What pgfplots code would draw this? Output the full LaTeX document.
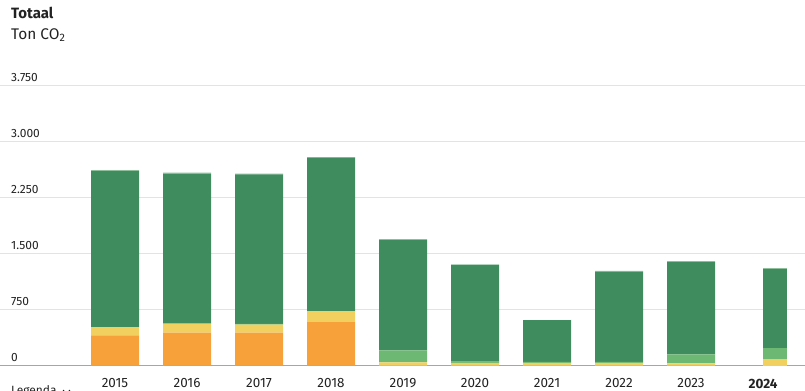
\documentclass[border=0pt]{standalone}
\usepackage{pgfplots}
\pgfplotsset{compat=1.18}
\usepackage{fontspec}
\setmainfont{Fira Sans}
\definecolor{cOr}{HTML}{F7A13A}
\definecolor{cYe}{HTML}{F2D060}
\definecolor{cLg}{HTML}{6DB872}
\definecolor{cDg}{HTML}{3F8D5F}
\definecolor{cTp}{HTML}{8CBF9A}
\definecolor{cTxt}{HTML}{222222}
\begin{document}
\begin{tikzpicture}[x=1bp,y=1bp]
\node[anchor=west,font=\fontsize{15}{17}\selectfont\bfseries,text=cTxt,inner sep=0] at (11,377) {Totaal};
\node[anchor=west,font=\fontsize{15.5}{17}\selectfont,text=cTxt,inner sep=0] at (11,355) {Ton CO\textsubscript{2}};
\begin{axis}[
  at={(0,32.6)}, anchor=south west,
  scale only axis,
  x=72bp, y=0.0746667bp,
  xmin=-1.5972, xmax=9.5833, ymin=0, ymax=4089,
  ybar stacked, bar width=48bp,
  axis x line*=bottom, axis y line*=left,
  x axis line style={-, draw=gray!70, line width=0.8pt},
  y axis line style={draw=none},
  ymajorgrids, grid style={gray!22, line width=0.8pt},
  ytick={0,750,1500,2250,3000,3750},
  yticklabels={0,750,1.500,2.250,3.000,3.750},
  yticklabel style={anchor=south west, font=\fontsize{12}{13}\selectfont, text=cTxt, xshift=10bp, yshift=3bp, inner sep=1bp},
  xtick={0,...,9}, major tick length=0,
  xticklabels={2015,2016,2017,2018,2019,2020,2021,2022,2023,\textbf{2024}},
  xticklabel style={font=\fontsize{13.5}{15}\selectfont, text=cTxt, yshift=-9.5bp},
  every axis plot/.append style={draw=none},
  clip=false,
]
\addplot[fill=cOr] coordinates {(0,406) (1,442) (2,442) (3,584) (4,0) (5,0) (6,0) (7,0) (8,0)};
\addplot[fill=cYe] coordinates {(0,107) (1,121) (2,107) (3,143) (4,45) (5,36) (6,36) (7,36) (8,31)};
\addplot[fill=cLg] coordinates {(0,0) (1,0) (2,12) (3,0) (4,160) (5,18) (6,14) (7,14) (8,121)};
\addplot[fill=cDg] coordinates {(0,2093) (1,2010) (2,2000) (3,2055) (4,1476) (5,1293) (6,560) (7,1207) (8,1235)};
\addplot[fill=cTp] coordinates {(0,14) (1,14) (2,10) (3,12) (4,14) (5,10) (6,0) (7,12) (8,14)};
\end{axis}
\begin{axis}[
  at={(0,32.6)}, anchor=south west,
  scale only axis,
  x=72bp, y=0.0746667bp,
  xmin=-1.5972, xmax=9.5833, ymin=0, ymax=4089,
  ybar stacked, bar width=24bp, bar shift=12bp,
  hide axis,
  every axis plot/.append style={draw=none},
]
\addplot[fill=cYe] coordinates {(9,85)};
\addplot[fill=cLg] coordinates {(9,147)};
\addplot[fill=cDg] coordinates {(9,1063)};
\addplot[fill=cTp] coordinates {(9,12)};
\end{axis}
\node[anchor=north west,font=\fontsize{12}{13}\selectfont,text=cTxt,inner sep=0] at (11,5) {Legenda};
\draw[cTxt,line width=0.8pt] (63,0) -- (66.5,-3.5) -- (70,0);
\pgfresetboundingbox
\useasboundingbox (0,0) rectangle (805,390);
\end{tikzpicture}
\end{document}
